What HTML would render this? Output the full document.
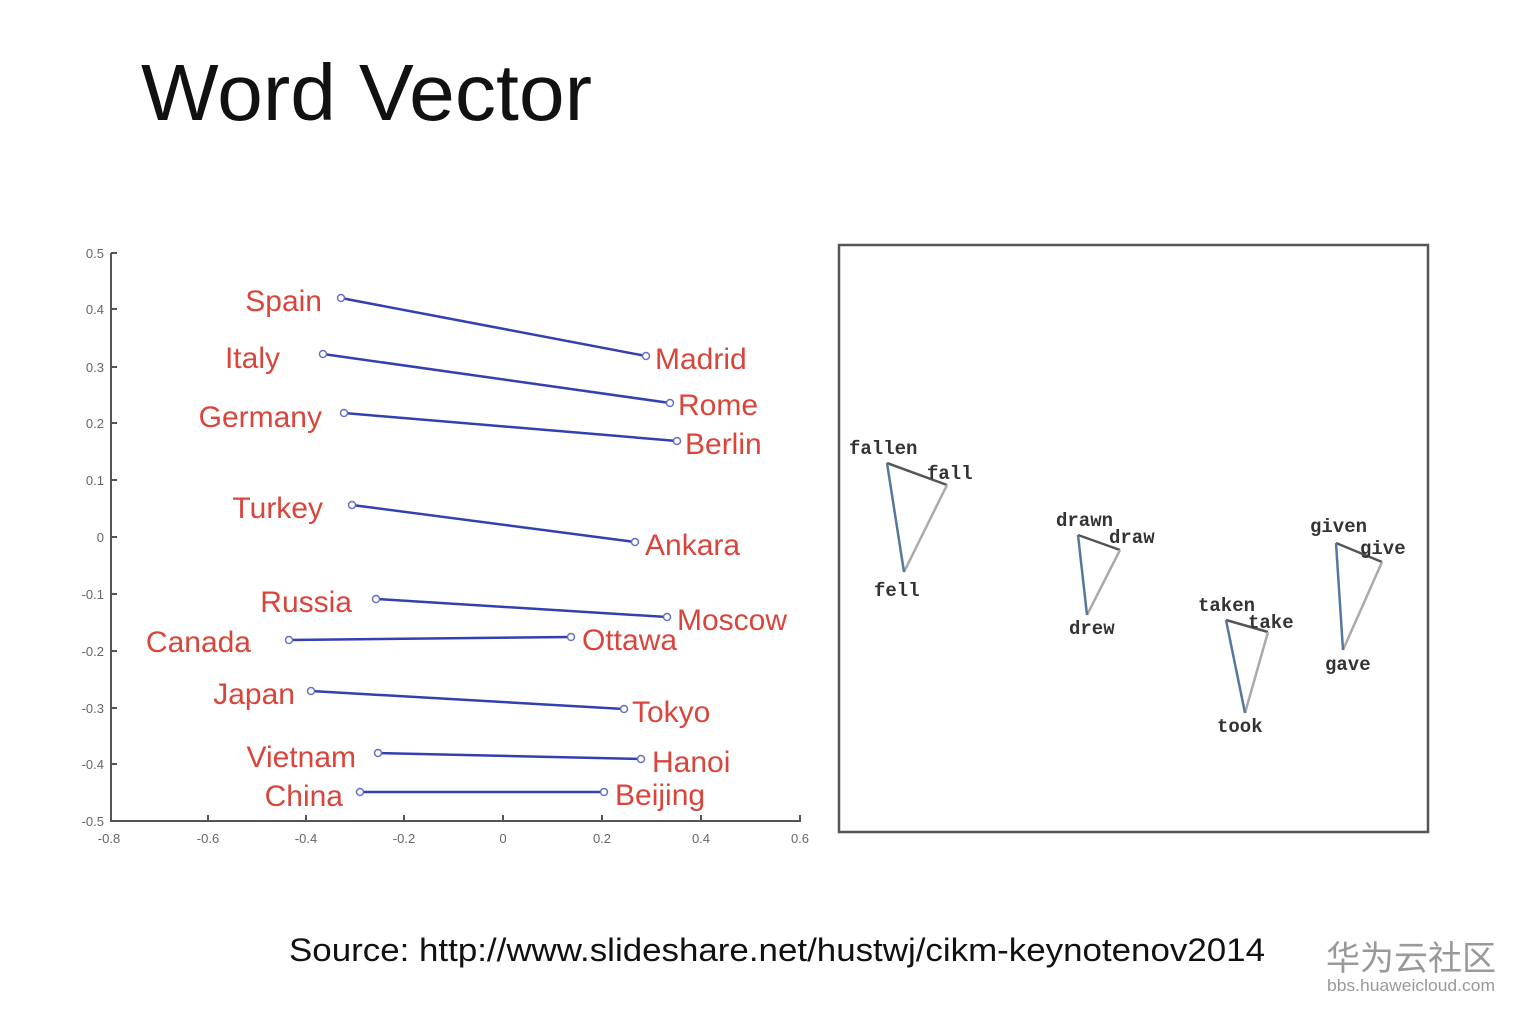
<!DOCTYPE html>
<html><head><meta charset="utf-8"><style>
html,body{margin:0;padding:0;background:#fff;}
svg{display:block}
</style></head><body>
<svg width="1525" height="1022" viewBox="0 0 1525 1022" xmlns="http://www.w3.org/2000/svg">
<rect width="1525" height="1022" fill="#fff"/>
<text x="141" y="120" font-family="Liberation Sans, sans-serif" font-size="80" fill="#111" textLength="451" lengthAdjust="spacingAndGlyphs">Word Vector</text>

<g stroke="#555" stroke-width="2" fill="none">
<path d="M111 253 V821 H801"/>
<path d="M111 253h6M111 309h6M111 367h6M111 423h6M111 480h6M111 537h6M111 594h6M111 651h6M111 708h6M111 764h6"/>
<path d="M208 821v-6M306 821v-6M404 821v-6M503 821v-6M602 821v-6M701 821v-6M800 821v-6"/>
</g>
<g font-family="Liberation Sans, sans-serif" font-size="13" fill="#666" text-anchor="end">
<text x="104" y="258">0.5</text><text x="104" y="314">0.4</text><text x="104" y="372">0.3</text>
<text x="104" y="428">0.2</text><text x="104" y="485">0.1</text><text x="104" y="542">0</text>
<text x="104" y="599">-0.1</text><text x="104" y="656">-0.2</text><text x="104" y="713">-0.3</text>
<text x="104" y="769">-0.4</text><text x="104" y="826">-0.5</text>
</g>
<g font-family="Liberation Sans, sans-serif" font-size="13" fill="#666" text-anchor="middle">
<text x="109" y="843">-0.8</text><text x="208" y="843">-0.6</text><text x="306" y="843">-0.4</text>
<text x="404" y="843">-0.2</text><text x="503" y="843">0</text><text x="602" y="843">0.2</text>
<text x="701" y="843">0.4</text><text x="800" y="843">0.6</text>
</g>

<g stroke="#3340b0" stroke-width="2.5" fill="none">
<line x1="341" y1="298" x2="646" y2="356"/>
<line x1="323" y1="354" x2="670" y2="403"/>
<line x1="344" y1="413" x2="677" y2="441"/>
<line x1="352" y1="505" x2="635" y2="542"/>
<line x1="376" y1="599" x2="667" y2="617"/>
<line x1="289" y1="640" x2="571" y2="637"/>
<line x1="311" y1="691" x2="624" y2="709"/>
<line x1="378" y1="753" x2="641" y2="759"/>
<line x1="360" y1="792" x2="604" y2="792"/>
</g>
<g stroke="#6670c0" stroke-width="1.5" fill="#fff">
<circle cx="341" cy="298" r="3.5"/><circle cx="646" cy="356" r="3.5"/>
<circle cx="323" cy="354" r="3.5"/><circle cx="670" cy="403" r="3.5"/>
<circle cx="344" cy="413" r="3.5"/><circle cx="677" cy="441" r="3.5"/>
<circle cx="352" cy="505" r="3.5"/><circle cx="635" cy="542" r="3.5"/>
<circle cx="376" cy="599" r="3.5"/><circle cx="667" cy="617" r="3.5"/>
<circle cx="289" cy="640" r="3.5"/><circle cx="571" cy="637" r="3.5"/>
<circle cx="311" cy="691" r="3.5"/><circle cx="624" cy="709" r="3.5"/>
<circle cx="378" cy="753" r="3.5"/><circle cx="641" cy="759" r="3.5"/>
<circle cx="360" cy="792" r="3.5"/><circle cx="604" cy="792" r="3.5"/>
</g>
<g font-family="Liberation Sans, sans-serif" font-size="30" fill="#d9453b" text-anchor="end">
<text x="322" y="311">Spain</text><text x="280" y="368">Italy</text><text x="322" y="427">Germany</text>
<text x="323" y="518">Turkey</text><text x="352" y="612">Russia</text><text x="251" y="652">Canada</text>
<text x="295" y="704">Japan</text><text x="356" y="767">Vietnam</text><text x="343" y="806">China</text>
</g>
<g font-family="Liberation Sans, sans-serif" font-size="30" fill="#d9453b">
<text x="655" y="369">Madrid</text><text x="678" y="415">Rome</text><text x="685" y="454">Berlin</text>
<text x="645" y="555">Ankara</text><text x="677" y="630">Moscow</text><text x="582" y="650">Ottawa</text>
<text x="632" y="722">Tokyo</text><text x="652" y="772">Hanoi</text><text x="615" y="805">Beijing</text>
</g>

<rect x="839" y="245" width="589" height="587" fill="none" stroke="#555" stroke-width="2.5"/>
<g fill="none" stroke-width="2.5">
<line x1="887" y1="463" x2="947" y2="485" stroke="#555"/>
<line x1="947" y1="485" x2="904" y2="572" stroke="#aaa"/>
<line x1="887" y1="463" x2="904" y2="572" stroke="#5577a0"/>
<line x1="1078" y1="535" x2="1120" y2="550" stroke="#555"/>
<line x1="1120" y1="550" x2="1087" y2="615" stroke="#aaa"/>
<line x1="1078" y1="535" x2="1087" y2="615" stroke="#5577a0"/>
<line x1="1226" y1="620" x2="1268" y2="632" stroke="#555"/>
<line x1="1268" y1="632" x2="1245" y2="713" stroke="#aaa"/>
<line x1="1226" y1="620" x2="1245" y2="713" stroke="#5577a0"/>
<line x1="1336" y1="543" x2="1382" y2="562" stroke="#555"/>
<line x1="1382" y1="562" x2="1343" y2="650" stroke="#aaa"/>
<line x1="1336" y1="543" x2="1343" y2="650" stroke="#5577a0"/>
</g>
<g font-family="Liberation Mono, monospace" font-size="19" font-weight="bold" fill="#333">
<text x="849" y="454">fallen</text><text x="927" y="479">fall</text><text x="874" y="596">fell</text>
<text x="1056" y="526">drawn</text><text x="1109" y="543">draw</text><text x="1069" y="634">drew</text>
<text x="1198" y="611">taken</text><text x="1248" y="628">take</text><text x="1217" y="732">took</text>
<text x="1310" y="532">given</text><text x="1360" y="554">give</text><text x="1325" y="670">gave</text>
</g>

<text x="289" y="961" font-family="Liberation Sans, sans-serif" font-size="32" fill="#111" textLength="976" lengthAdjust="spacingAndGlyphs">Source: http://www.slideshare.net/hustwj/cikm-keynotenov2014</text>
<text x="1326" y="970" font-family="Liberation Sans, 'Noto Sans CJK SC', sans-serif" font-size="34" fill="#999">华为云社区</text>
<text x="1327" y="991" font-family="Liberation Sans, sans-serif" font-size="17" fill="#999" textLength="168" lengthAdjust="spacingAndGlyphs">bbs.huaweicloud.com</text>
</svg>
</body></html>
